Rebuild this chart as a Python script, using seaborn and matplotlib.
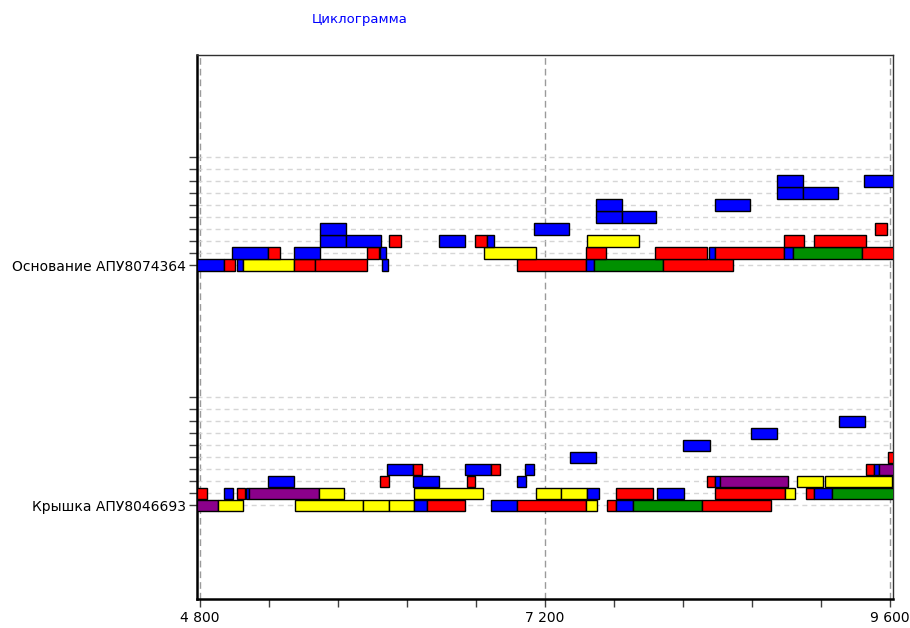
import matplotlib

matplotlib.use("Agg")

import matplotlib.pyplot as plt
import pandas as pd
import seaborn as sns
from matplotlib.ticker import FixedLocator, FuncFormatter, MultipleLocator

TITLE = "Циклограмма"
CATEGORIES = ["Крышка АПУ8046693", "Основание АПУ8074364"]
CATEGORY_BASE = [0, 20]
N_LEVELS = 10
X_TICKS = [4800, 7200, 9600]
X_MINOR_STEP = 480
X_RANGE = (4780, 9620)
Y_RANGE = (-7.8, 37.5)

PALETTE = {"b": "#0000ff", "r": "#ff0000", "y": "#ffff00", "g": "#009000", "p": "#8b008b"}

# Основание АПУ8074364: one entry per bar
osn_level = [0] * 11 + [1] * 13 + [2] * 9 + [3] * 3 + [4] * 2 + [5] * 2 + [6] * 2 + [7] * 2
osn_start = [
    4780, 4967, 5055, 5097, 5454, 5602, 6064, 7007, 7485, 7543, 8023,
    5023, 5273, 5454, 5964, 6052, 6776, 7485, 7963, 8341, 8385, 8863, 8923, 9405,
    5635, 5816, 6115, 6463, 6713, 6794, 7494, 8863, 9073,
    5635, 7123, 9496,
    7553, 7738,
    7553, 8383,
    8814, 8995,
    8814, 9421,
]
osn_end = [
    4967, 5046, 5097, 5454, 5598, 5964, 6110, 7485, 7543, 8023, 8506,
    5273, 5357, 5635, 6047, 6094, 7135, 7624, 8325, 8385, 8863, 8923, 9405, 9640,
    5816, 6057, 6196, 6646, 6794, 6845, 7854, 9004, 9433,
    5816, 7365, 9577,
    7738, 7974,
    7738, 8626,
    8995, 9236,
    8995, 9640,
]
osn_color = list("brbyrrbrbgr" "brbrbyrrbrbgr" "bbrbrbyrr" "bbr" "bb" "bb" "bb" "bb")

# Крышка АПУ8046693: one entry per bar
kr_level = [0] * 14 + [1] * 17 + [2] * 10 + [3] * 8 + [4] * 2 + [5] + [6] + [7]
kr_start = [
    4780, 4923, 5459, 5932, 6115, 6291, 6381, 6824, 7005, 7485, 7633, 7694, 7814, 8294,
    4780, 4967, 5055, 5120, 5143, 5628, 6291, 7135, 7313, 7494, 7694, 7981, 8385, 8868, 9016, 9073, 9194,
    5273, 6052, 6284, 6655, 7003, 8325, 8385, 8417, 8955, 9146,
    6103, 6284, 6643, 6824, 7063, 9433, 9491, 9524,
    7374, 9584,
    8162,
    8633,
    9243,
]
kr_end = [
    4923, 5101, 5932, 6115, 6291, 6377, 6643, 7005, 7485, 7564, 7694, 7814, 8294, 8774,
    4847, 5027, 5113, 5143, 5628, 5804, 6771, 7313, 7494, 7576, 7953, 8165, 8868, 8941, 9073, 9194, 9640,
    5456, 6115, 6463, 6713, 7066, 8385, 8417, 8893, 9136, 9610,
    6284, 6344, 6824, 6885, 7123, 9491, 9524, 9640,
    7555, 9640,
    8346,
    8816,
    9426,
]
kr_color = list("pyyyybrbryrbgr" "rbrbpyyyybrbryrbg" "brbrbrbpyy" "brbrbrbp" "br" "b" "b" "b")


def _frame(level, start, end, color, base):
    df = pd.DataFrame({"level": level, "start": start, "end": end, "color": color})
    df["y"] = base + df["level"]
    df["width"] = df["end"] - df["start"]
    return df


def main():
    sns.set_theme(style="white")
    plt.rcParams["font.family"] = ["DejaVu Sans"]

    fig = plt.figure(figsize=(9.1, 6.28), dpi=100)
    ax = fig.add_axes([197 / 910, 1 - 599 / 628, 696 / 910, 544 / 628])

    bars = pd.concat(
        [
            _frame(kr_level, kr_start, kr_end, kr_color, CATEGORY_BASE[0]),
            _frame(osn_level, osn_start, osn_end, osn_color, CATEGORY_BASE[1]),
        ]
    )
    ax.barh(
        bars["y"],
        bars["width"],
        left=bars["start"],
        height=0.96,
        color=[PALETTE[c] for c in bars["color"]],
        edgecolor="black",
        linewidth=1.0,
        zorder=3,
    )

    ax.set_xlim(*X_RANGE)
    ax.set_ylim(*Y_RANGE)

    ax.xaxis.set_major_locator(FixedLocator(X_TICKS))
    ax.xaxis.set_minor_locator(MultipleLocator(X_MINOR_STEP))
    ax.xaxis.set_major_formatter(FuncFormatter(lambda x, _: f"{x:,.0f}".replace(",", " ")))

    ax.set_yticks(CATEGORY_BASE)
    ax.set_yticklabels(CATEGORIES)
    ax.yaxis.set_minor_locator(FixedLocator([b + k for b in CATEGORY_BASE for k in range(1, N_LEVELS)]))

    ax.tick_params(axis="both", which="both", direction="out", width=1, color="#404040",
                   labelsize=10, labelcolor="black")
    ax.tick_params(axis="x", which="both", bottom=True, length=6, pad=3)
    ax.tick_params(axis="y", which="both", left=True, length=6, pad=2)

    ax.grid(axis="y", which="both", linestyle=(0, (3.6, 2.9)), color="#d6d6d6", linewidth=1.0)
    ax.grid(axis="x", which="major", linestyle=(0, (4.8, 2.9)), color="#9a9a9a", linewidth=1.0)
    ax.grid(axis="x", which="minor", visible=False)
    ax.set_axisbelow(True)

    for side in ["left", "bottom"]:
        ax.spines[side].set_color("black")
        ax.spines[side].set_linewidth(1.8)
    for side in ["top", "right"]:
        ax.spines[side].set_color("#303030")
        ax.spines[side].set_linewidth(1.0)

    ax.set_xlabel("")
    ax.set_ylabel("")

    fig.text(360 / 910, 1 - 19 / 628, TITLE, color="#0000ff", fontsize=9.5, ha="center", va="center")

    fig.savefig("out.png", dpi=100)
    plt.close(fig)


if __name__ == "__main__":
    main()
